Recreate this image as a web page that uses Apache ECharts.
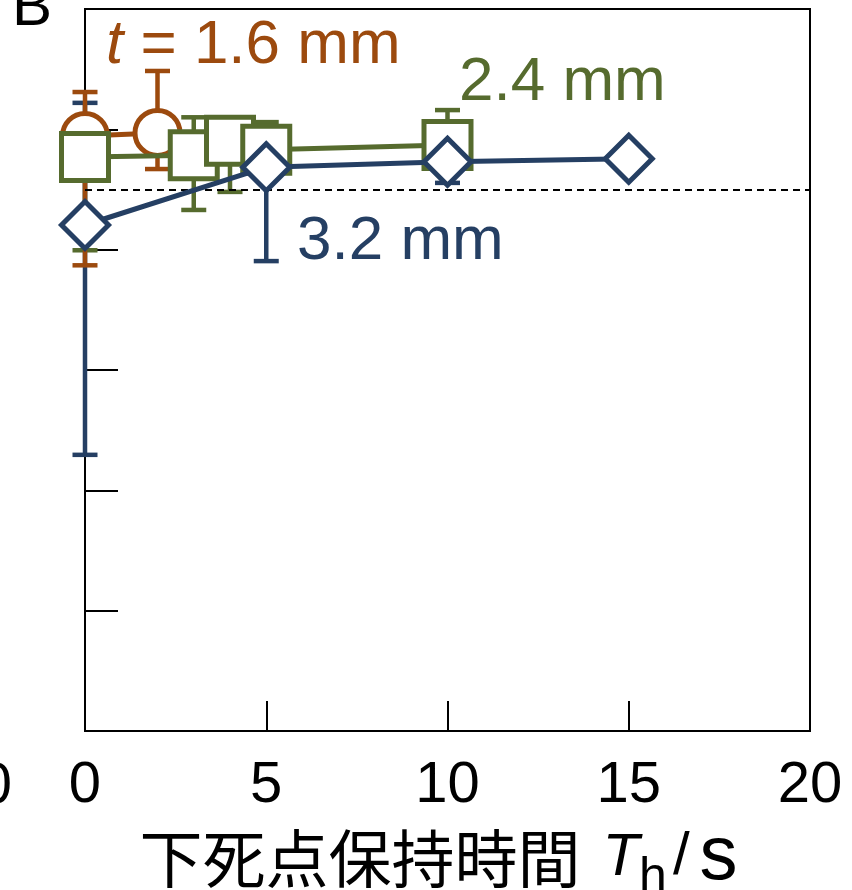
<!DOCTYPE html>
<html>
<head>
<meta charset="utf-8">
<script src="https://cdn.jsdelivr.net/npm/echarts@6/dist/echarts.min.js"></script>
<style>html,body{margin:0;padding:0;background:#fff}#c{width:852px;height:890px}</style>
</head>
<body>
<div id="c"></div>
<script>
// ---- data ----
var xTicks = [0, 5, 10, 15, 20];
var t16X = [0, 2];
var t16Y = [98.9, 99.4];
var t16Lo = [77.4, 93.4];
var t16Hi = [106.2, 109.7];

var t24X = [0, 3, 4, 5, 10];
var t24Y = [95.4, 95.7, 98.1, 96.6, 97.4];
var t24Lo = [79.9, 86.6, 89.6, 95.0, 94.5];
var t24Hi = [98.5, 102.0, 102.0, 101.2, 103.2];

var t32X = [0, 5, 10, 15];
var t32Y = [84.1, 93.7, 94.6, 95.1];
var t32Lo = [45.9, 78.1, 91.1, 95.1];
var t32Hi = [104.4, 96.0, 96.5, 95.1];

var refLine = 90;

var C16 = '#9C4A0E', C24 = '#566B2E', C32 = '#253F63';
var LAT = 'Liberation Sans, Arial, sans-serif';
var F62 = '62px Liberation Sans, Arial, sans-serif';

function pts(xs, ys) { return xs.map(function (x, i) { return [x, ys[i]]; }); }
function errData(xs, lo, hi) { return xs.map(function (x, i) { return [x, lo[i], hi[i]]; }); }
function errSeries(xs, lo, hi, color, z) {
  return {
    type: 'custom', z: z, silent: true,
    data: errData(xs, lo, hi),
    encode: { x: 0, y: [1, 2] },
    renderItem: function (params, api) {
      var x = api.value(0);
      var pLo = api.coord([x, api.value(1)]);
      var pHi = api.coord([x, api.value(2)]);
      var w = 12.5;
      var st = { stroke: color, lineWidth: 4.5 };
      return {
        type: 'group',
        children: [
          { type: 'line', shape: { x1: pLo[0], y1: pLo[1], x2: pHi[0], y2: pHi[1] }, style: st },
          { type: 'line', shape: { x1: pLo[0] - w, y1: pLo[1], x2: pLo[0] + w, y2: pLo[1] }, style: st },
          { type: 'line', shape: { x1: pHi[0] - w, y1: pHi[1], x2: pHi[0] + w, y2: pHi[1] }, style: st }
        ]
      };
    }
  };
}
function lineSeries(xs, ys, color, symbol, size, z) {
  return {
    type: 'line', z: z, silent: true,
    data: pts(xs, ys),
    symbol: symbol, symbolSize: size, showAllSymbol: true,
    lineStyle: { color: color, width: 5 },
    itemStyle: { color: '#fff', borderColor: color, borderWidth: 5 },
    animation: false
  };
}

var chart = echarts.init(document.getElementById('c'), null, { renderer: 'canvas' });
var s32 = lineSeries(t32X, t32Y, C32, 'diamond', 47, 6);
s32.markLine = {
  silent: true, symbol: 'none', label: { show: false },
  lineStyle: { color: '#000', type: [7, 5], width: 2 },
  data: [{ yAxis: refLine }]
};
chart.setOption({
  animation: false,
  grid: { left: 85, right: 42, top: 9, bottom: 159, outerBoundsMode: 'none', containLabel: false,
    show: true, borderColor: '#000', borderWidth: 2, backgroundColor: 'transparent' },
  xAxis: {
    type: 'value', min: 0, max: 20, interval: 5,
    axisLine: { show: true, lineStyle: { color: '#000', width: 2 } },
    axisTick: { show: true, inside: true, length: 30, lineStyle: { color: '#000', width: 2 } },
    splitLine: { show: false },
    axisLabel: { fontSize: 58, color: '#000', fontFamily: LAT, margin: 26,
      formatter: function (v) { return xTicks.indexOf(v) >= 0 ? String(v) : ''; } },
    name: '{c|下死点保持時間}{i|T}{s|h}{n|/}{g| }{b|s}',
    nameLocation: 'middle', nameGap: 72,
    nameTextStyle: {
      color: '#000',
      rich: {
        c: { fontFamily: 'Noto Sans CJK JP', fontSize: 63, lineHeight: 90, color: '#000', padding: [0, 22, 0, 0] },
        i: { fontFamily: LAT, fontStyle: 'italic', fontSize: 60, lineHeight: 90, color: '#000' },
        s: { fontFamily: LAT, fontSize: 50, lineHeight: 50, verticalAlign: 'bottom', color: '#000', padding: [0, 6, 0, 0] },
        n: { fontFamily: LAT, fontSize: 60, lineHeight: 90, color: '#000' },
        g: { fontFamily: LAT, fontSize: 36, lineHeight: 90, color: '#000' },
        b: { fontFamily: LAT, fontSize: 76, lineHeight: 90, color: '#000', padding: [0, 18, 0, 0] }
      }
    }
  },
  yAxis: {
    type: 'value', min: 0, max: 120, interval: 20,
    axisLine: { show: true, lineStyle: { color: '#000', width: 2 } },
    axisTick: { show: true, inside: true, length: 33, lineStyle: { color: '#000', width: 2 } },
    splitLine: { show: false },
    axisLabel: { show: false }
  },
  graphic: [
    { type: 'text', left: 106, top: 15, z: 20,
      style: { text: '{i|t} = 1.6 mm', rich: { i: { fontStyle: 'italic', fontFamily: LAT, fontSize: 62, fill: C16 } },
        font: F62, fill: C16 } },
    { type: 'text', left: 459, top: 52, z: 20,
      style: { text: '2.4 mm', font: F62, fill: C24 } },
    { type: 'text', left: 297, top: 211, z: 20,
      style: { text: '3.2 mm', font: F62, fill: C32 } },
    { type: 'text', right: 840, top: 758, z: 20,
      style: { text: '20', font: '58px Liberation Sans, Arial, sans-serif', fill: '#000' } },
    { type: 'text', left: 12, top: -22, z: 20,
      style: { text: 'B', font: '60px Liberation Sans, Arial, sans-serif', fill: '#000' } }
  ],
  series: [
    errSeries(t32X, t32Lo, t32Hi, C32, 1),
    errSeries(t24X, t24Lo, t24Hi, C24, 2),
    errSeries(t16X, t16Lo, t16Hi, C16, 3),
    lineSeries(t16X, t16Y, C16, 'circle', 45, 4),
    lineSeries(t24X, t24Y, C24, 'rect', 47, 5),
    s32
  ]
});
</script>
</body>
</html>
